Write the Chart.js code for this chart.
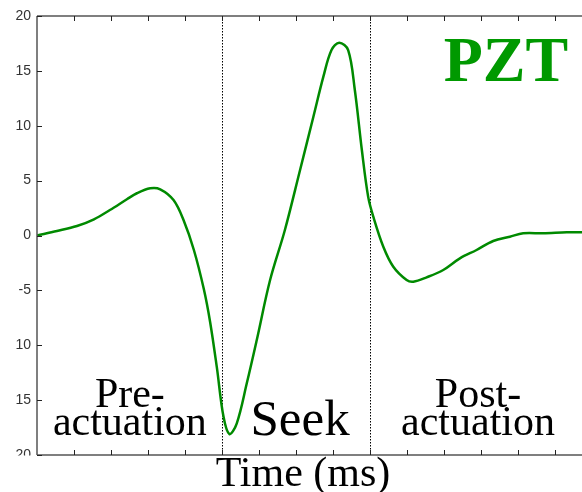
<!DOCTYPE html>
<html>
<head>
<meta charset="utf-8">
<script src="https://cdn.jsdelivr.net/npm/chart.js@4/dist/chart.umd.min.js"></script>
<style>
html,body{margin:0;padding:0;background:#fff;overflow:hidden;}
#c{display:block;}
</style>
</head>
<body>
<canvas id="c" width="582" height="492"></canvas>
<script>
// Time axis (arbitrary units, one tick per unit) and PZT signal values
const xValues = [0,0.54,1.08,1.54,1.97,2.43,2.70,3.06,3.33,3.69,3.96,4.24,4.51,4.68,4.86,5.04,5.20,5.40,5.67,5.94,6.30,6.70,7.11,7.47,7.74,7.96,8.17,8.41,8.59,8.78,8.95,9.09,9.36,9.63,9.99,10.17,10.53,10.98,11.43,11.88,12.33,12.78,13.14,13.68,14.32,14.73];
const yValues = [0,0.41,0.87,1.48,2.32,3.30,3.85,4.30,4.21,3.23,1.41,-1.32,-4.9,-7.9,-12.0,-16.5,-18.09,-17.11,-13.47,-9.52,-4.06,0.50,5.97,10.82,14.47,16.90,17.57,16.90,13.26,7.79,3.54,1.71,-1.02,-2.84,-4.05,-4.21,-3.81,-3.14,-2.08,-1.32,-0.50,-0.11,0.20,0.20,0.29,0.29];
const yTickValues = [-20,-15,-10,-5,0,5,10,15,20];
const yTickLabels = ['20','15','10','-5','0','5','10','15','20'];
const xTickValues = [1,2,3,4,5,6,7,8,9,10,11,12,13,14];
const phaseBoundaries = [5, 9];
const phaseLabels = [
  {lines:['Pre-','actuation'], x:2.51},
  {lines:['Seek'], x:7.11},
  {lines:['Post-','actuation'], x:11.92}
];
const xTitle = 'Time (ms)';
const panelTitle = 'PZT';

const overlay = {
  id:'overlay',
  beforeDatasetsDraw(chart){
    const {ctx, chartArea:a, scales:{x}} = chart;
    ctx.save();
    ctx.strokeStyle = '#000';
    ctx.lineWidth = 1;
    ctx.setLineDash([1.5,1.5]);
    phaseBoundaries.forEach(v=>{
      const px = Math.round(x.getPixelForValue(v))+0.5;
      ctx.beginPath(); ctx.moveTo(px,a.top); ctx.lineTo(px,a.bottom); ctx.stroke();
    });
    ctx.restore();
  },
  afterDraw(chart){
    const {ctx, chartArea:a, scales:{x,y}} = chart;
    ctx.save();
    ctx.fillStyle = '#fff';
    ctx.fillRect(0, a.bottom+0.5, a.left-1, 40);
    ctx.strokeStyle = '#555';
    ctx.lineWidth = 1.5;
    ctx.beginPath();
    ctx.moveTo(a.left, a.top); ctx.lineTo(a.right, a.top);
    ctx.moveTo(a.left, a.top); ctx.lineTo(a.left, a.bottom);
    ctx.moveTo(a.left, a.bottom); ctx.lineTo(a.right, a.bottom);
    ctx.stroke();
    ctx.strokeStyle = '#222';
    ctx.lineWidth = 1;
    ctx.beginPath();
    xTickValues.forEach(v=>{
      const px = Math.round(x.getPixelForValue(v))+0.5;
      ctx.moveTo(px, a.top); ctx.lineTo(px, a.top+5);
      ctx.moveTo(px, a.bottom); ctx.lineTo(px, a.bottom-5);
    });
    yTickValues.forEach(v=>{
      const py = Math.round(y.getPixelForValue(v))+0.5;
      ctx.moveTo(a.left, py); ctx.lineTo(a.left+5, py);
    });
    ctx.stroke();
    ctx.fillStyle = '#000';
    ctx.textAlign = 'center';
    ctx.textBaseline = 'alphabetic';
    phaseLabels.forEach(p=>{
      const px = x.getPixelForValue(p.x);
      if (p.lines.length === 1){
        ctx.font = '51px "Liberation Serif", "Times New Roman", serif';
        ctx.fillText(p.lines[0], px, 435);
      } else {
        ctx.font = '42px "Liberation Serif", "Times New Roman", serif';
        ctx.fillText(p.lines[0], px, 407);
        ctx.fillText(p.lines[1], px, 435);
      }
    });
    ctx.font = '42px "Liberation Serif", "Times New Roman", serif';
    ctx.fillText(xTitle, 303, 486);
    ctx.fillStyle = '#009900';
    ctx.font = 'bold 64px "Liberation Serif", "Times New Roman", serif';
    ctx.fillText(panelTitle, 506, 81);
    ctx.restore();
  }
};

new Chart(document.getElementById('c'), {
  type:'line',
  data:{
    datasets:[{
      data: xValues.map((v,i)=>({x:v, y:yValues[i]})),
      borderColor:'#008a00',
      borderWidth:2.5,
      pointRadius:0,
      fill:false,
      tension:0.35
    }]
  },
  options:{
    responsive:false,
    animation:false,
    devicePixelRatio:1,
    layout:{padding:{top:16,right:0,left:0,bottom:0}},
    plugins:{legend:{display:false}, tooltip:{enabled:false}},
    scales:{
      x:{
        type:'linear', min:0, max:14.73,
        grid:{display:false, drawTicks:false},
        border:{display:false},
        ticks:{display:false},
        afterFit(s){ s.height = 37; }
      },
      y:{
        min:-20, max:20,
        grid:{display:false, drawTicks:false},
        border:{display:false},
        afterBuildTicks(s){ s.ticks = yTickValues.map(v=>({value:v})); },
        ticks:{
          padding:6,
          color:'#333',
          font:{family:'"Liberation Sans", Arial, sans-serif', size:14},
          callback:(v)=>yTickLabels[yTickValues.indexOf(v)]
        },
        afterFit(s){ s.width = 37; }
      }
    }
  },
  plugins:[overlay]
});
</script>
</body>
</html>
